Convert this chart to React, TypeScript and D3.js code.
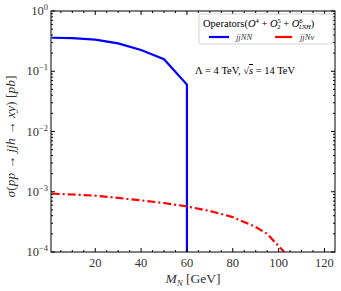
import React from 'react';
import * as d3 from 'd3';

// jjNN cross section (pb) vs M_N (GeV)
const massNN = [1, 10, 20, 30, 40, 50, 60, 60];
const sigmaNN = [0.36, 0.355, 0.335, 0.29, 0.225, 0.158, 0.06, 0.00005];

// jjNnu cross section (pb)
const massNv = [1, 10, 20, 30, 40, 50, 60, 70, 80, 90, 95, 100, 102.5];
const sigmaNv = [0.00093, 0.0009, 0.00086, 0.00079, 0.00072, 0.00065, 0.00057, 0.00048, 0.00038, 0.00026, 0.0002, 0.000125, 0.0001];

const xTicks = [20, 40, 60, 80, 100, 120];
const yTicks = [1, 0.1, 0.01, 0.001, 0.0001];
const yTickExp = ['0', '−1', '−2', '−3', '−4'];

const W = 341, H = 291;
const left = 51, right = 335, top = 11, bottom = 252;
const serif = '"Liberation Serif", "DejaVu Serif", serif';

export default function App() {
  const x = d3.scaleLinear().domain([0.7, 124.6]).range([left, right]);
  const y = d3.scaleLog().domain([1e-4, 1]).range([bottom, top]);

  const line = d3.line<[number, number]>()
    .x(d => x(d[0]))
    .y(d => y(d[1]));

  const nn = line(massNN.map((m, i) => [m, sigmaNN[i]]));
  const nv = line(massNv.map((m, i) => [m, sigmaNv[i]]));

  const xMinor = d3.range(5, 125, 5).filter(v => v % 20 !== 0);
  const yMinor: number[] = [];
  for (let e = -4; e < 0; e++) {
    for (let k = 2; k < 10; k++) yMinor.push(k * Math.pow(10, e));
  }

  return (
    <svg width={W} height={H} style={{ position: 'absolute', left: 0, top: 0 }}>
      <rect width={W} height={H} fill="#fff" />
      <defs>
        <clipPath id="plot">
          <rect x={left} y={top} width={right - left} height={bottom - top} />
        </clipPath>
      </defs>
      <g clipPath="url(#plot)">
        <path d={nn!} fill="none" stroke="#0000ff" strokeWidth={2.2} />
        <path d={nv!} fill="none" stroke="#ff0000" strokeWidth={2.2}
          strokeDasharray="8,3,2,3" />
      </g>

      {/* x ticks */}
      {xTicks.map(t => (
        <g key={'x' + t}>
          <line x1={x(t)} x2={x(t)} y1={bottom} y2={bottom - 4} stroke="#000" />
          <line x1={x(t)} x2={x(t)} y1={top} y2={top + 4} stroke="#000" />
          <text x={x(t)} y={bottom + 15} textAnchor="middle" fontFamily={serif}
            fontSize={12.5} fill="#333">{t}</text>
        </g>
      ))}
      {xMinor.map(t => (
        <g key={'xm' + t}>
          <line x1={x(t)} x2={x(t)} y1={bottom} y2={bottom - 2} stroke="#000" />
          <line x1={x(t)} x2={x(t)} y1={top} y2={top + 2} stroke="#000" />
        </g>
      ))}

      {/* y ticks */}
      {yTicks.map((t, i) => (
        <g key={'y' + t}>
          <line x1={left} x2={left + 4} y1={y(t)} y2={y(t)} stroke="#000" />
          <line x1={right} x2={right - 4} y1={y(t)} y2={y(t)} stroke="#000" />
          <text x={left - 3} y={y(t) + 4} textAnchor="end" fontFamily={serif}
            fontSize={12.5} fill="#333">
            10<tspan dy={-5} fontSize={8.5}>{yTickExp[i]}</tspan>
          </text>
        </g>
      ))}
      {yMinor.map(t => (
        <g key={'ym' + t}>
          <line x1={left} x2={left + 2} y1={y(t)} y2={y(t)} stroke="#000" />
          <line x1={right} x2={right - 2} y1={y(t)} y2={y(t)} stroke="#000" />
        </g>
      ))}

      <rect x={left} y={top} width={right - left} height={bottom - top}
        fill="none" stroke="#000" strokeWidth={1} />

      {/* axis labels */}
      <text x={(left + right) / 2} y={283} textAnchor="middle" fontFamily={serif}
        fontSize={13.5} fill="#333">
        <tspan fontStyle="italic">M</tspan>
        <tspan fontStyle="italic" fontSize={9} dy={3}>N</tspan>
        <tspan dy={-3}> [GeV]</tspan>
      </text>
      <text transform={`translate(15,${(top + bottom) / 2 + 5}) rotate(-90)`}
        textAnchor="middle" fontFamily={serif} fontSize={13.5} fill="#333">
        <tspan fontStyle="italic">σ</tspan>(<tspan fontStyle="italic">pp</tspan> → <tspan fontStyle="italic">jjh</tspan> → <tspan fontStyle="italic">xy</tspan>) [<tspan fontStyle="italic">pb</tspan>]
      </text>

      {/* legend */}
      <rect x={199} y={14} width={134} height={30} rx={2} fill="#fff"
        stroke="#ccc" strokeWidth={0.8} />
      <text x={203} y={27} fontFamily={serif} fontSize={10.5} fill="#000">
        Operators(<tspan fontStyle="italic">O</tspan>
        <tspan dy={-4} fontSize={6.5}>4</tspan>
        <tspan dy={4}> + </tspan>
        <tspan fontStyle="italic">O</tspan>
        <tspan dy={-4} fontSize={6.5}>5</tspan>
        <tspan dx={-3.5} dy={6} fontSize={6.5}>2</tspan>
        <tspan dy={-2}> + </tspan>
        <tspan fontStyle="italic">O</tspan>
        <tspan dy={-4} fontSize={6.5}>6</tspan>
        <tspan dx={-3.5} dy={6} fontSize={6} fontStyle="italic">LNH</tspan>
        <tspan dy={-2}>)</tspan>
      </text>
      <line x1={209} x2={229} y1={37} y2={37} stroke="#0000ff" strokeWidth={2.2} />
      <text x={236} y={40} fontFamily={serif} fontSize={8.5} fontStyle="italic" fill="#333">jjNN</text>
      <line x1={275} x2={292} y1={37} y2={37} stroke="#ff0000" strokeWidth={2.2} />
      <text x={300} y={40} fontFamily={serif} fontSize={8.5} fontStyle="italic" fill="#333">jjNν</text>

      {/* annotation */}
      <text x={195} y={74} fontFamily={serif} fontSize={10.5} fill="#000">
        Λ = 4 TeV, √<tspan fontStyle="italic" textDecoration="overline">s</tspan> = 14 TeV
      </text>
    </svg>
  );
}
